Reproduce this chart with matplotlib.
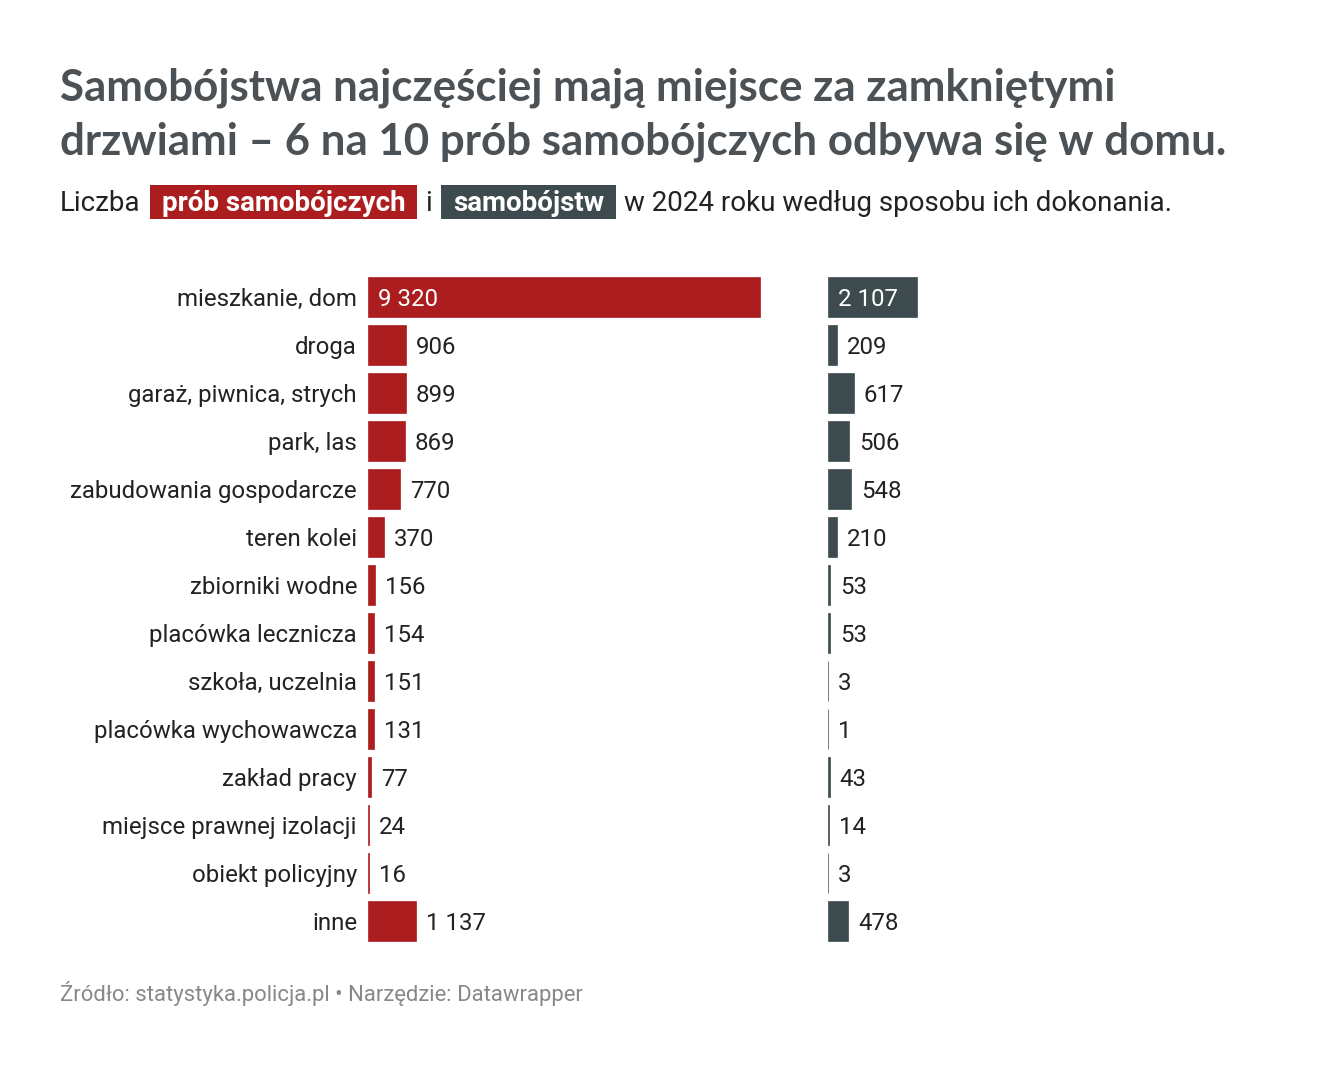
import matplotlib
matplotlib.use("Agg")
import matplotlib.pyplot as plt

categories = ["mieszkanie, dom", "droga", "garaż, piwnica, strych", "park, las",
              "zabudowania gospodarcze", "teren kolei", "zbiorniki wodne",
              "placówka lecznicza", "szkoła, uczelnia", "placówka wychowawcza",
              "zakład pracy", "miejsce prawnej izolacji", "obiekt policyjny", "inne"]
attempts = [9320, 906, 899, 869, 770, 370, 156, 154, 151, 131, 77, 24, 16, 1137]
suicides = [2107, 209, 617, 506, 548, 210, 53, 53, 3, 1, 43, 14, 3, 478]

RED = "#ab1d1f"
GRAY = "#3d4b4f"
TXT = "#222222"
TITLE_C = "#4b5154"

W, H = 1320, 1068
fig = plt.figure(figsize=(W / 100, H / 100), dpi=100)
fig.patch.set_facecolor("white")

def fx(x): return x / W
def fy(y): return 1 - y / H

# Title
tfont = dict(family=["Lato", "DejaVu Sans"], fontweight="bold", color=TITLE_C, fontsize=31.6)
fig.text(fx(60), fy(101), "Samobójstwa najczęściej mają miejsce za zamkniętymi", va="baseline", **tfont)
fig.text(fx(60), fy(155), "drzwiami – 6 na 10 prób samobójczych odbywa się w domu.", va="baseline", **tfont)

# Subtitle with highlighted pieces
fig.canvas.draw()
renderer = fig.canvas.get_renderer()
SFS = 20
pieces = [("Liczba", None, TXT, "normal"),
          ("prób samobójczych", RED, "white", "bold"),
          ("i", None, TXT, "normal"),
          ("samobójstw", GRAY, "white", "bold"),
          ("w 2024 roku według sposobu ich dokonania.", None, TXT, "normal")]
x = 60
base = 211
for txt, bg, col, wt in pieces:
    if bg is not None:
        x += 8
        t = fig.text(fx(x + 12), fy(base), txt, va="baseline", fontsize=SFS,
                     family=["Roboto", "DejaVu Sans"], color=col, fontweight=wt)
        fig.canvas.draw()
        bb = t.get_window_extent(renderer)
        w = bb.width
        rect = plt.Rectangle((fx(x), fy(219)), fx(w + 24), (219 - 185) / H,
                             transform=fig.transFigure, facecolor=bg, edgecolor="none", zorder=0)
        fig.patches.append(rect)
        x += w + 24 + 8
    else:
        t = fig.text(fx(x), fy(base), txt, va="baseline", fontsize=SFS,
                     family=["Roboto", "DejaVu Sans"], color=col, fontweight=wt)
        fig.canvas.draw()
        bb = t.get_window_extent(renderer)
        x += bb.width + 1

# Bars
n = len(categories)
top_px, row_px = 273, 48
scale = 392 / 9320.0  # px per unit
ax_h = n * row_px

def make_ax(left, width):
    ax = fig.add_axes([fx(left), fy(top_px + ax_h), fx(width), ax_h / H])
    ax.set_xlim(0, width / scale)
    ax.set_ylim(n - 0.5, -0.5)
    ax.axis("off")
    return ax

ax1 = make_ax(368, 460)
ax2 = make_ax(828, 440)
ypos = list(range(n))
ax1.barh(ypos, attempts, height=40 / 48, color=RED, edgecolor=RED, linewidth=0.5)
ax2.barh(ypos, suicides, height=40 / 48, color=GRAY, edgecolor=GRAY, linewidth=0.5)

def fmt(v):
    return f"{v:,}".replace(",", " ")

LFS = 17.3
lfont = dict(family=["Roboto", "DejaVu Sans"], fontsize=LFS, color=TXT)
for i, cat in enumerate(categories):
    ax1.annotate(cat, (0, i), xytext=(-11, 0), textcoords="offset pixels",
                 ha="right", va="center_baseline", **lfont)

for ax, vals in ((ax1, attempts), (ax2, suicides)):
    vmax = max(vals)
    for i, v in enumerate(vals):
        if v == vmax:
            ax.annotate(fmt(v), (0, i), xytext=(10, 0), textcoords="offset pixels",
                        ha="left", va="center_baseline", family=["Roboto", "DejaVu Sans"],
                        fontsize=LFS, color="white")
        else:
            ax.annotate(fmt(v), (v, i), xytext=(10, 0), textcoords="offset pixels",
                        ha="left", va="center_baseline", **lfont)

# Footer
fig.text(fx(60), fy(1001), "Źródło: statystyka.policja.pl • Narzędzie: Datawrapper",
         va="baseline", family=["Roboto", "DejaVu Sans"], fontsize=15.9, color="#888888")

fig.savefig("out.png", dpi=100, facecolor="white")
